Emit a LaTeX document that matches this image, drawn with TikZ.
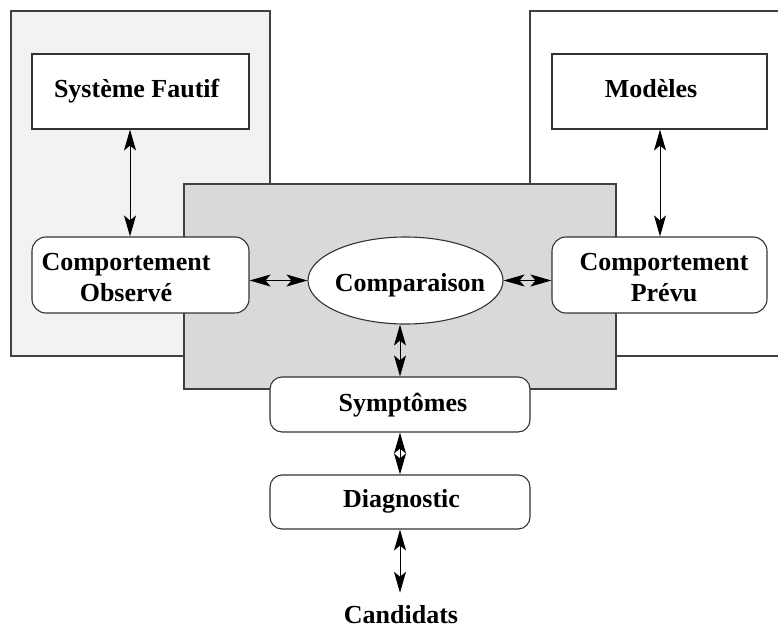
\documentclass[tikz,border=0pt]{standalone}
\usepackage{fontspec}
\setmainfont{Liberation Serif}
\usetikzlibrary{arrows.meta,shapes.geometric}
\begin{document}
\begin{tikzpicture}[x=1pt,y=-1pt,
  panel/.style={draw=black!75, line width=1.1pt},
  plainbox/.style={draw=black!80, line width=1.1pt, fill=white, rectangle, inner sep=0pt},
  roundbox/.style={plainbox, rounded corners=14pt},
  lbl/.style={font=\fontsize{26}{31}\selectfont\bfseries, align=center, inner sep=0pt},
  link/.style={line width=1pt, {Stealth[length=21pt,width=12pt,inset=5pt]}-{Stealth[length=21pt,width=12pt,inset=5pt]}}
]
\useasboundingbox (0,0) rectangle (778,628);

% background panels
\draw[panel, fill=black!5] (11,11) rectangle (270,356);
\draw[panel, fill=white] (530,11) rectangle (800,356);
\draw[panel, fill=black!15] (184,184) rectangle (616,389);

% boxes
\node[plainbox, minimum width=217pt, minimum height=75pt] (sys) at (140.5,91.5) {};
\node[plainbox, minimum width=215pt, minimum height=75pt] (mod) at (659.5,91.5) {};
\node[roundbox, minimum width=217pt, minimum height=76pt] (obs) at (140.5,275) {};
\node[roundbox, minimum width=215pt, minimum height=76pt] (prev) at (659.5,275) {};
\node[ellipse, draw=black!80, line width=1.1pt, fill=white, inner sep=0pt,
      minimum width=195pt, minimum height=87pt] (cmp) at (405.5,280.5) {};
\node[roundbox, rounded corners=12pt, minimum width=260pt, minimum height=55pt] (sym) at (400,404.5) {};
\node[roundbox, rounded corners=12pt, minimum width=260pt, minimum height=54pt] (diag) at (400,502) {};

% labels
\node[lbl, anchor=base] (tsys) at (136.7,97.3) {Système Fautif};
\node[lbl, anchor=base] (tmod) at (651,97.3) {Modèles};
\node[lbl, anchor=base] (tobs) at (126,301.7) {Comportement\\Observé};
\node[lbl, anchor=base] (tprev) at (664,301.7) {Comportement\\Prévu};
\node[lbl, anchor=base] (tcmp) at (410,291.7) {Comparaison};
\node[lbl, anchor=base] (tsym) at (403,411.7) {Symptômes};
\node[lbl, anchor=base] (tdiag) at (401.5,507) {Diagnostic};
\node[lbl, anchor=base] (cand) at (401,623) {Candidats};

% connectors
\coordinate (lx) at (130,0);
\coordinate (rx) at (660,0);
\coordinate (mx) at (400,0);
\draw[link] (sys.south -| lx) -- (obs.north -| lx);
\draw[link] (mod.south -| rx) -- (prev.north -| rx);
\draw[link] (obs.east |- cmp.west) -- (cmp.west);
\draw[link] (cmp.east) -- (prev.west |- cmp.east);
\draw[link] (cmp.south -| mx) -- (sym.north -| mx);
\draw[link] (sym.south -| mx) -- (diag.north -| mx);
\draw[link, shorten >=12pt] (diag.south -| mx) -- (cand.north -| mx);
\end{tikzpicture}
\end{document}
